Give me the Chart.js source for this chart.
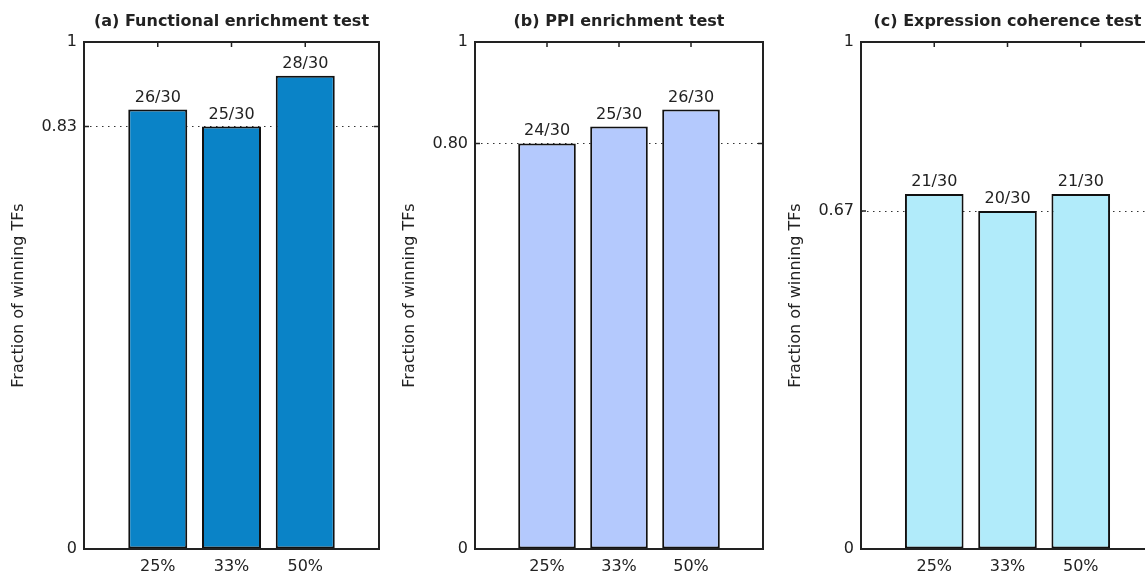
<!DOCTYPE html>
<html>
<head>
<meta charset="utf-8">
<script src="https://cdn.jsdelivr.net/npm/chart.js@4.4.1/dist/chart.umd.min.js"></script>
<style>
  html, body { margin: 0; padding: 0; background: #fff; overflow: hidden; width: 1145px; height: 577px; }
  canvas { position: absolute; top: 0; }
</style>
</head>
<body>
<canvas id="chartA" width="385" height="577" style="left:0px"></canvas>
<canvas id="chartB" width="378" height="577" style="left:391px"></canvas>
<canvas id="chartC" width="383" height="577" style="left:777px"></canvas>
<script>
// x categories (bars sit at 1, 2, 3 on a 0..4 axis)
const xLabels = ['25%', '33%', '50%'];
const xPositions = [1, 2, 3];
const totalTFs = 30;

// winning TFs out of 30 for each test
const winsFunctional = [26, 25, 28];
const winsPPI = [24, 25, 26];
const winsExpression = [21, 20, 21];

// y ticks shown on each panel (dotted reference line at the middle one)
const yTicksFunctional = [0, 25 / 30, 1];
const yLabelsFunctional = ['0', '0.83', '1'];
const yTicksPPI = [0, 24 / 30, 1];
const yLabelsPPI = ['0', '0.80', '1'];
const yTicksExpression = [0, 20 / 30, 1];
const yLabelsExpression = ['0', '0.67', '1'];

Chart.defaults.font.family = "'DejaVu Sans', sans-serif";
Chart.defaults.font.size = 16;
Chart.defaults.color = '#222';

// box frame, inward ticks and "n/30" labels above the bars
const framePlugin = {
  id: 'frame',
  afterDatasetsDraw(chart, args, opts) {
    const { ctx, chartArea: a, scales: { x, y } } = chart;
    ctx.save();
    ctx.strokeStyle = '#222';
    ctx.lineWidth = 2;
    ctx.strokeRect(a.left, a.top, a.right - a.left, a.bottom - a.top);
    ctx.lineWidth = 1.5;
    ctx.beginPath();
    x.ticks.forEach(t => {
      const px = x.getPixelForValue(t.value);
      ctx.moveTo(px, a.top);
      ctx.lineTo(px, a.top + 5);
    });
    const py = y.getPixelForValue(opts.refValue);
    ctx.moveTo(a.left, py); ctx.lineTo(a.left + 5, py);
    ctx.moveTo(a.right, py); ctx.lineTo(a.right - 5, py);
    ctx.stroke();

    ctx.fillStyle = '#222';
    ctx.font = "16px 'DejaVu Sans'";
    ctx.textAlign = 'center';
    ctx.textBaseline = 'alphabetic';
    chart.getDatasetMeta(0).data.forEach((bar, i) => {
      ctx.fillText(opts.labels[i], bar.x, bar.y - 8);
    });
    ctx.restore();
  }
};

function makeChart(id, title, wins, yTicks, yLabels, color) {
  const refValue = yTicks[1];
  return new Chart(document.getElementById(id), {
    type: 'bar',
    data: {
      datasets: [{
        data: wins.map((w, i) => ({ x: xPositions[i], y: w / totalTFs })),
        backgroundColor: color,
        borderColor: '#111',
        borderWidth: 2,
        borderSkipped: false,
        barPercentage: 0.8,
        categoryPercentage: 1
      }]
    },
    options: {
      responsive: false,
      animation: false,
      layout: { autoPadding: false, padding: { left: 0, right: 6, top: 0, bottom: 0 } },
      plugins: {
        legend: { display: false },
        tooltip: { enabled: false },
        frame: { refValue: refValue, labels: wins.map(w => w + '/' + totalTFs) }
      },
      scales: {
        x: {
          type: 'linear',
          position: 'bottom',
          offset: false,
          min: 0,
          max: 4,
          afterBuildTicks: s => { s.ticks = xPositions.map(v => ({ value: v })); },
          afterFit: s => { s.height = 28; },
          ticks: { padding: 8, maxRotation: 0, callback: v => xLabels[xPositions.indexOf(v)] },
          grid: { display: false, drawTicks: false },
          border: { display: false }
        },
        x2: {
          type: 'linear',
          axis: 'x',
          position: 'top',
          offset: false,
          min: 0,
          max: 4,
          afterFit: s => { s.height = 42; },
          ticks: { display: false },
          grid: { display: false, drawTicks: false },
          border: { display: false },
          title: {
            display: true,
            text: title,
            font: { size: 16, weight: 'bold' },
            padding: { top: 12, bottom: 0 }
          }
        },
        y: {
          min: 0,
          max: 1,
          afterBuildTicks: s => { s.ticks = yTicks.map(v => ({ value: v })); },
          afterFit: s => { s.width = 84; },
          ticks: { padding: 7, callback: v => yLabels[yTicks.indexOf(v)] },
          grid: {
            drawTicks: false,
            lineWidth: 1,
            color: c => (c.tick && c.tick.value === refValue) ? '#333' : 'rgba(0,0,0,0)'
          },
          border: { display: false, dash: [1.5, 4.5] },
          title: {
            display: true,
            text: 'Fraction of winning TFs',
            font: { size: 16 },
            padding: { top: 9, bottom: 0 }
          }
        }
      }
    },
    plugins: [framePlugin]
  });
}

makeChart('chartA', '(a) Functional enrichment test', winsFunctional, yTicksFunctional, yLabelsFunctional, '#0A83C7');
makeChart('chartB', '(b) PPI enrichment test', winsPPI, yTicksPPI, yLabelsPPI, '#B4C9FD');
makeChart('chartC', '(c) Expression coherence test', winsExpression, yTicksExpression, yLabelsExpression, '#B1EBFA');
</script>
</body>
</html>
